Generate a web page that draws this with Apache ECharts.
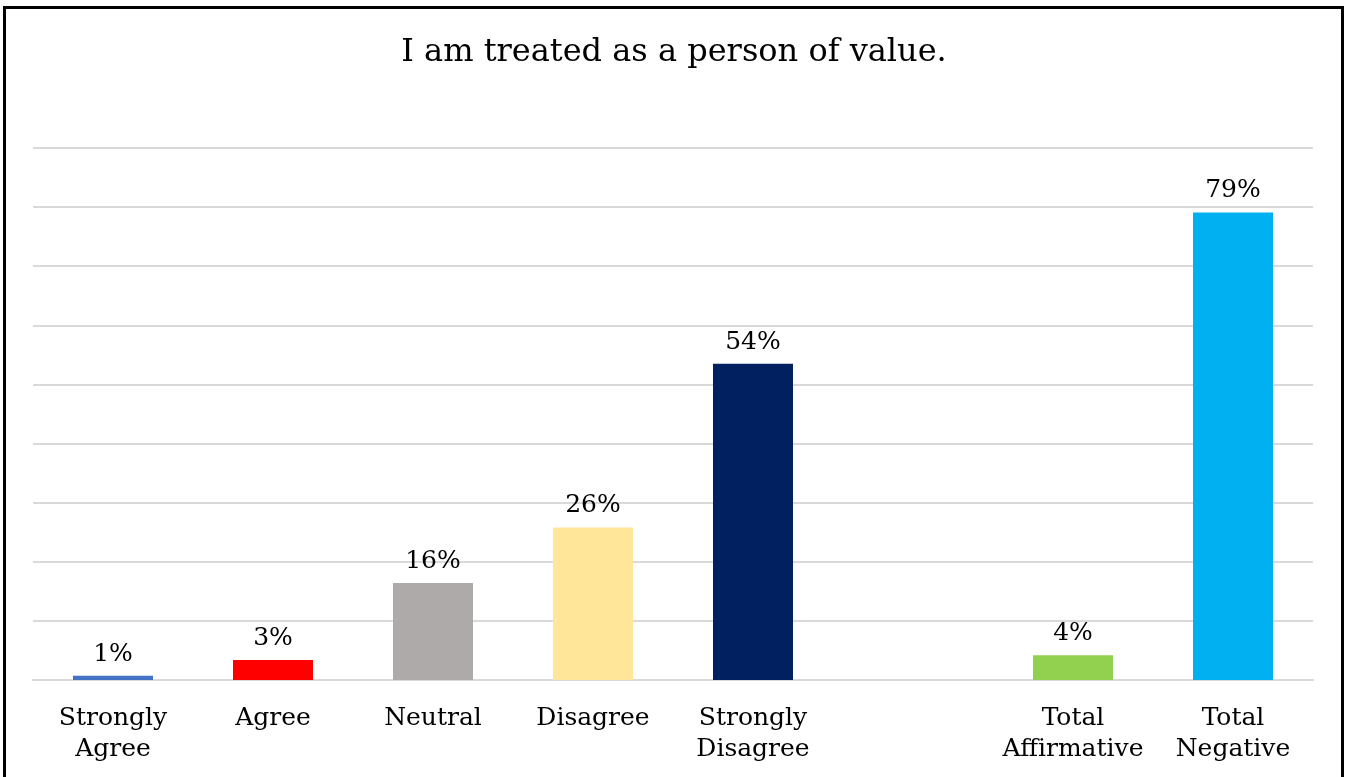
<!DOCTYPE html>
<html>
<head>
<meta charset="utf-8">
<script src="https://cdn.jsdelivr.net/npm/echarts@6/dist/echarts.min.js"></script>
<style>
html,body{margin:0;padding:0;background:#fff;width:1348px;height:777px;overflow:hidden;}
#frame{position:absolute;left:3px;top:6px;width:1335px;height:800px;border:3px solid #000;box-sizing:content-box;}
#chart{position:absolute;left:0;top:0;width:1348px;height:777px;}
</style>
</head>
<body>
<div id="frame"></div>
<div id="chart"></div>
<script>
var titleText = 'I am treated as a person of value.';
var categories = ['Strongly\nAgree', 'Agree', 'Neutral', 'Disagree', 'Strongly\nDisagree', '', 'Total\nAffirmative', 'Total\nNegative'];
var values = [0.7, 3.4, 16.4, 25.8, 53.5, null, 4.2, 79.1];
var valueLabels = ['1%', '3%', '16%', '26%', '54%', '', '4%', '79%'];
var colors = ['#4472C4', '#FF0000', '#AEAAAA', '#FFE699', '#002060', '#FFFFFF', '#92D050', '#00B0F0'];
var yTicks = [0, 10, 20, 30, 40, 50, 60, 70, 80, 90];

var chart = echarts.init(document.getElementById('chart'), null, {renderer: 'canvas'});
var serif = '"DejaVu Serif", serif';
chart.setOption({
  animation: false,
  backgroundColor: 'transparent',
  title: {
    text: titleText,
    left: 'center',
    top: 32,
    textStyle: {fontFamily: serif, fontSize: 32, fontWeight: 'normal', color: '#000'}
  },
  grid: {left: 33, right: 35, top: 148, bottom: 97, containLabel: false},
  xAxis: {
    type: 'category',
    data: categories,
    axisLine: {show: true, lineStyle: {color: '#D9D9D9', width: 2}},
    axisTick: {show: false},
    axisLabel: {fontFamily: serif, fontSize: 25, color: '#000', lineHeight: 31, margin: 23, interval: 0}
  },
  yAxis: {
    type: 'value',
    min: yTicks[0],
    max: yTicks[yTicks.length - 1],
    interval: 10,
    axisLine: {show: false},
    axisTick: {show: false},
    axisLabel: {show: false},
    splitLine: {lineStyle: {color: '#D9D9D9', width: 2}}
  },
  series: [{
    type: 'bar',
    barWidth: '50%',
    data: values.map(function (v, i) {
      return {value: v, itemStyle: {color: colors[i]}};
    }),
    label: {
      show: true,
      position: 'top',
      distance: 9,
      fontFamily: serif,
      fontSize: 25,
      color: '#000',
      formatter: function (p) { return valueLabels[p.dataIndex]; }
    }
  }]
});
</script>
</body>
</html>
